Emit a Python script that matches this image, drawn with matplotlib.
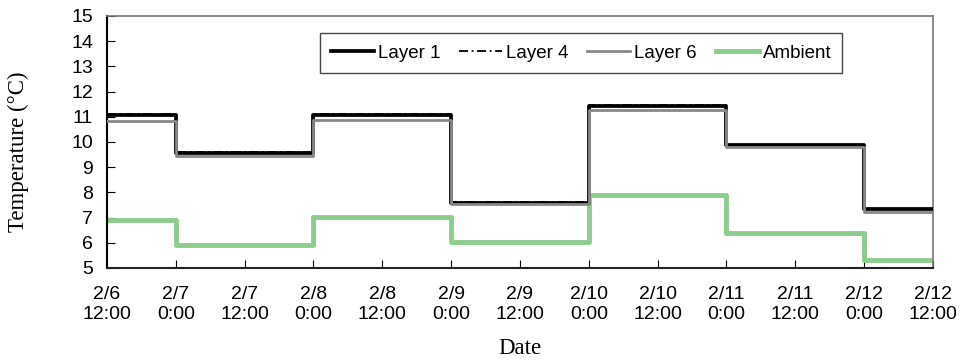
import numpy as np
import matplotlib
matplotlib.use("Agg")
import matplotlib.pyplot as plt

# hours from 2/6 12:00, one step per day (changes at midnight)
seg_start = [0, 12, 36, 60, 84, 108, 132, 144]
layer1 = [11.07, 9.55, 11.07, 7.57, 11.43, 9.88, 7.34]
layer4 = [11.12, 9.60, 11.12, 7.60, 11.46, 9.90, 7.36]
layer6 = [10.85, 9.44, 10.88, 7.53, 11.27, 9.81, 7.23]
ambient = [6.90, 5.93, 7.04, 6.03, 7.90, 6.40, 5.30]

tick_labels = ["2/6\n12:00", "2/7\n0:00", "2/7\n12:00", "2/8\n0:00", "2/8\n12:00",
               "2/9\n0:00", "2/9\n12:00", "2/10\n0:00", "2/10\n12:00",
               "2/11\n0:00", "2/11\n12:00", "2/12\n0:00", "2/12\n12:00"]

def steps(v):
    return list(v) + [v[-1]]

fig = plt.figure(figsize=(9.62, 3.62), dpi=100)
ax = fig.add_axes([107/962, 1-268/362, (933-107)/962, (268-16)/362])

ax.plot(seg_start, steps(ambient), drawstyle="steps-post", color="#8ccc8c", lw=3.5, label="Ambient", zorder=2)
ax.plot(seg_start, steps(layer1), drawstyle="steps-post", color="black", lw=2.7, label="Layer 1", zorder=3)
ax.plot(seg_start, steps(layer4), drawstyle="steps-post", color="black", lw=1.3,
        dashes=(5, 2, 1, 2), label="Layer 4", zorder=4)
ax.plot(seg_start, steps(layer6), drawstyle="steps-post", color="#888888", lw=2, label="Layer 6", zorder=5)

ax.set_xlim(0, 144)
ax.set_ylim(5, 15)
ax.set_xticks(np.arange(0, 145, 12))
ax.set_xticklabels(tick_labels, fontsize=14, family="Liberation Sans", linespacing=1.2)
ax.set_yticks(np.arange(5, 16, 1))
ax.tick_params(axis="y", labelsize=14, direction="in", length=6, pad=10)
ax.tick_params(axis="x", direction="in", length=6, pad=13)
for t in ax.get_yticklabels():
    t.set_family("Liberation Sans")

ax.spines["left"].set_color("black")
ax.spines["bottom"].set_color("#222222")
ax.spines["left"].set_linewidth(1.5)
ax.spines["bottom"].set_linewidth(1.5)
ax.spines["top"].set_color("#777777")
ax.spines["right"].set_color("#777777")
ax.spines["top"].set_linewidth(1.2)
ax.spines["right"].set_linewidth(1.2)

ax.set_ylabel("Temperature (\u00b0C)", family="Liberation Serif", fontsize=16.5)
ax.yaxis.set_label_coords(-0.094, 0.46)
ax.set_xlabel("Date", family="Liberation Serif", fontsize=16.5, labelpad=11)

h, l = ax.get_legend_handles_labels()
order = [1, 2, 3, 0]
leg = ax.legend([h[i] for i in order], [l[i] for i in order], ncol=4, loc="center",
                bbox_to_anchor=(0.574, 0.853), fancybox=False, edgecolor="#444444",
                framealpha=1, prop={"family": "Liberation Sans", "size": 13.5},
                handlelength=2.3, handletextpad=0.2, columnspacing=1.0, borderpad=0.6)
leg.get_frame().set_linewidth(1.0)

fig.savefig("out.png", dpi=100)
